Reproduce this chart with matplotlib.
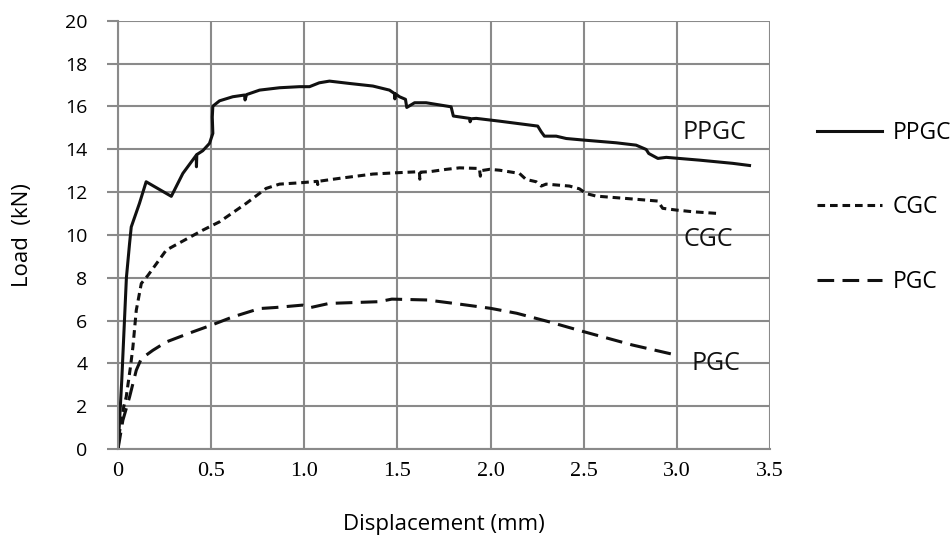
import matplotlib
matplotlib.use("Agg")
import matplotlib.pyplot as plt

plt.rcParams["font.family"] = ["Open Sans", "DejaVu Sans"]
plt.rcParams["lines.scale_dashes"] = False

# displacement (mm) / load (kN)
ppgc_x = [0, 0.02, 0.045, 0.062, 0.071, 0.115, 0.151, 0.286, 0.348, 0.42, 0.421, 0.423,
          0.455, 0.491, 0.509, 0.506, 0.509, 0.545, 0.616, 0.679, 0.682, 0.69, 0.76, 0.867,
          0.974, 1.028, 1.08, 1.135, 1.243, 1.368, 1.457, 1.484, 1.486, 1.49, 1.511, 1.543,
          1.55, 1.592, 1.654, 1.788, 1.8, 1.887, 1.89, 1.895, 1.923, 2.048, 2.253, 2.272,
          2.289, 2.352, 2.406, 2.495, 2.674, 2.781, 2.835, 2.849, 2.898, 2.943, 3.121, 3.3, 3.39]
ppgc_y = [0, 3.2, 8.0, 9.6, 10.37, 11.47, 12.48, 11.8, 12.87, 13.72, 13.18, 13.75,
          13.93, 14.27, 14.74, 15.5, 16.01, 16.26, 16.45, 16.53, 16.3, 16.55, 16.76, 16.87,
          16.92, 16.92, 17.1, 17.18, 17.07, 16.95, 16.76, 16.6, 16.35, 16.58, 16.45, 16.33,
          15.95, 16.17, 16.17, 15.98, 15.55, 15.44, 15.28, 15.42, 15.44, 15.31, 15.08, 14.81,
          14.61, 14.61, 14.5, 14.43, 14.3, 14.19, 13.99, 13.8, 13.57, 13.62, 13.49, 13.34, 13.24]

cgc_x = [0, 0.007, 0.031, 0.044, 0.067, 0.08, 0.098, 0.125, 0.16, 0.259, 0.455, 0.545,
         0.688, 0.795, 0.867, 0.974, 1.07, 1.072, 1.075, 1.189, 1.368, 1.493, 1.618, 1.62,
         1.625, 1.672, 1.762, 1.833, 1.94, 1.945, 1.95, 1.994, 2.048, 2.155, 2.19, 2.245,
         2.272, 2.298, 2.423, 2.477, 2.513, 2.567, 2.728, 2.897, 2.924, 2.996, 3.085, 3.22]
cgc_y = [0, 0.75, 1.99, 2.43, 3.85, 4.77, 6.48, 7.73, 8.1, 9.29, 10.22, 10.61,
         11.47, 12.17, 12.37, 12.43, 12.5, 12.35, 12.5, 12.64, 12.84, 12.9, 12.95, 12.6,
         12.93, 12.95, 13.06, 13.13, 13.1, 12.74, 13.0, 13.06, 13.02, 12.87, 12.59, 12.48,
         12.28, 12.37, 12.28, 12.15, 11.93, 11.81, 11.7, 11.58, 11.24, 11.16, 11.08, 11.0]

pgc_x = [0, 0.026, 0.062, 0.098, 0.125, 0.187, 0.259, 0.401, 0.5, 0.616, 0.76, 0.847,
         0.99, 1.03, 1.134, 1.40, 1.47, 1.66, 1.83, 2.0, 2.14, 2.31, 2.5, 2.76, 2.97]
pgc_y = [0, 1.34, 2.43, 3.68, 4.22, 4.61, 5.0, 5.47, 5.78, 6.17, 6.56, 6.61,
         6.72, 6.6, 6.8, 6.88, 7.0, 6.96, 6.77, 6.57, 6.34, 5.95, 5.48, 4.86, 4.44]

x_ticks = [0, 0.5, 1.0, 1.5, 2.0, 2.5, 3.0, 3.5]
x_labels = ["0", "0.5", "1.0", "1.5", "2.0", "2.5", "3.0", "3.5"]
y_ticks = list(range(0, 21, 2))

fig = plt.figure(figsize=(9.51, 5.41), dpi=100)
ax = fig.add_axes([0.1241, 0.170, 0.6856, 0.7917])

ink = "#111111"
grid_c = "#8a8a8a"
ax.plot(ppgc_x, ppgc_y, color=ink, lw=2.2, label="PPGC")
ax.plot(cgc_x, cgc_y, color=ink, lw=2.2, linestyle=(0, (5.5, 3.5)), label="CGC")
ax.plot(pgc_x, pgc_y, color=ink, lw=2.2, linestyle=(0, (12, 6)), label="PGC")

ax.set_xlim(0, 3.5)
ax.set_ylim(0, 20)
ax.set_xticks(x_ticks)
ax.set_xticklabels(x_labels, family="Liberation Serif", fontsize=16)
ax.set_yticks(y_ticks)
ax.tick_params(axis="y", labelsize=14, length=8, color=grid_c, width=1.5, pad=14)
ax.tick_params(axis="x", length=0, pad=9)
ax.grid(True, color=grid_c, lw=1.5)
ax.set_axisbelow(True)
for s in ["top", "right"]:
    ax.spines[s].set_visible(False)
for s in ["left", "bottom"]:
    ax.spines[s].set_color(grid_c)
    ax.spines[s].set_linewidth(1.5)

ax.set_xlabel("Displacement (mm)", fontsize=16)
ax.set_ylabel("Load  (kN)", fontsize=16)
ax.xaxis.set_label_coords(0.5, -0.152)
ax.yaxis.set_label_coords(-0.130, 0.5)

ax.text(3.2, 14.78, "PPGC", fontsize=18, ha="center", va="center", color=ink)
ax.text(3.17, 9.8, "CGC", fontsize=18, ha="center", va="center", color=ink)
ax.text(3.21, 4.0, "PGC", fontsize=18, ha="center", va="center", color=ink)

ax.legend(loc="center left", bbox_to_anchor=(1.0716, 0.564), frameon=False,
          fontsize=16.5, handlelength=2.85, handletextpad=0.45, labelspacing=2.2,
          borderpad=0, borderaxespad=0)

fig.savefig("out.png", dpi=100)
